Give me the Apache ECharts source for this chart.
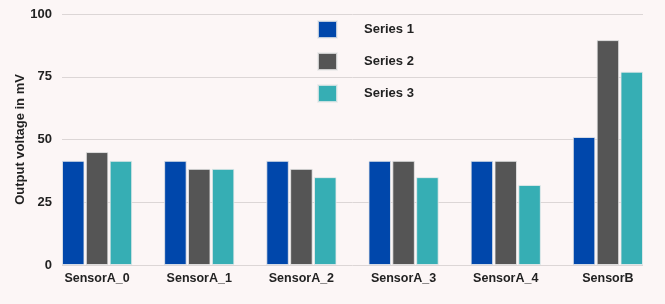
<!DOCTYPE html>
<html>
<head>
<meta charset="utf-8">
<script src="https://cdn.jsdelivr.net/npm/echarts@6/dist/echarts.min.js"></script>
<style>
  html, body { margin: 0; padding: 0; background: #fcf6f6; }
  #chart { width: 665px; height: 304px; }
</style>
</head>
<body>
<div id="chart"></div>
<script>
const categories = ['SensorA_0', 'SensorA_1', 'SensorA_2', 'SensorA_3', 'SensorA_4', 'SensorB']
const series1 = [41.5, 41.5, 41.5, 41.5, 41.5, 51]
const series2 = [45, 38.3, 38.3, 41.5, 41.5, 89.6]
const series3 = [41.5, 38.3, 35, 35, 31.9, 77]
const yTicks = [0, 25, 50, 75, 100]

const names = ['Series 1', 'Series 2', 'Series 3']
const colors = ['#0047ab', '#555555', '#36aeb4']
const font = 'Liberation Sans, Arial, sans-serif'

const chart = echarts.init(document.getElementById('chart'))
const bar = (i, data) => ({
  name: names[i],
  type: 'bar',
  xAxisIndex: 0,
  yAxisIndex: 0,
  data: data,
  barGap: '6%',
  barCategoryGap: '31.3%',
  itemStyle: { color: colors[i], borderColor: 'rgba(235,235,235,0.8)', borderWidth: 1 }
})
const option = {
  backgroundColor: '#fcf6f6',
  animation: false,
  legend: {
    orient: 'vertical',
    left: 312,
    top: 15,
    itemWidth: 19,
    itemHeight: 17,
    itemGap: 13,
    icon: 'rect',
    data: names,
    textStyle: {
      fontFamily: font,
      fontWeight: 'bold',
      fontSize: 13,
      color: '#222',
      padding: [0, 0, 0, 22]
    }
  },
  grid: [
    { left: 46, right: 6, top: 14, bottom: 39 },
    { left: 62, right: 22, top: 14, bottom: 39 }
  ],
  xAxis: [
    {
      type: 'category',
      gridIndex: 0,
      data: categories,
      axisLine: { show: false },
      axisTick: { show: false },
      axisLabel: {
        margin: 7,
        fontFamily: font,
        fontWeight: 'bold',
        fontSize: 12.5,
        color: '#222'
      }
    },
    {
      type: 'value',
      gridIndex: 1,
      show: false
    }
  ],
  yAxis: [
    {
      type: 'value',
      gridIndex: 0,
      min: 0,
      max: 100,
      show: false,
      splitLine: { show: false }
    },
    {
      type: 'value',
      gridIndex: 1,
      min: 0,
      max: yTicks[yTicks.length - 1],
      interval: 25,
      name: 'Output voltage in mV',
      nameLocation: 'middle',
      nameGap: 35,
      nameMoveOverlap: false,
      nameTextStyle: {
        fontFamily: font,
        fontWeight: 'bold',
        fontSize: 13,
        color: '#222'
      },
      axisLine: { show: false },
      axisTick: { show: false },
      axisLabel: {
        margin: 10,
        fontFamily: font,
        fontWeight: 'bold',
        fontSize: 13,
        color: '#222'
      },
      splitLine: { lineStyle: { color: '#dcd6d6', width: 1 } }
    }
  ],
  series: [bar(0, series1), bar(1, series2), bar(2, series3)]
}
chart.setOption(option)
</script>
</body>
</html>
